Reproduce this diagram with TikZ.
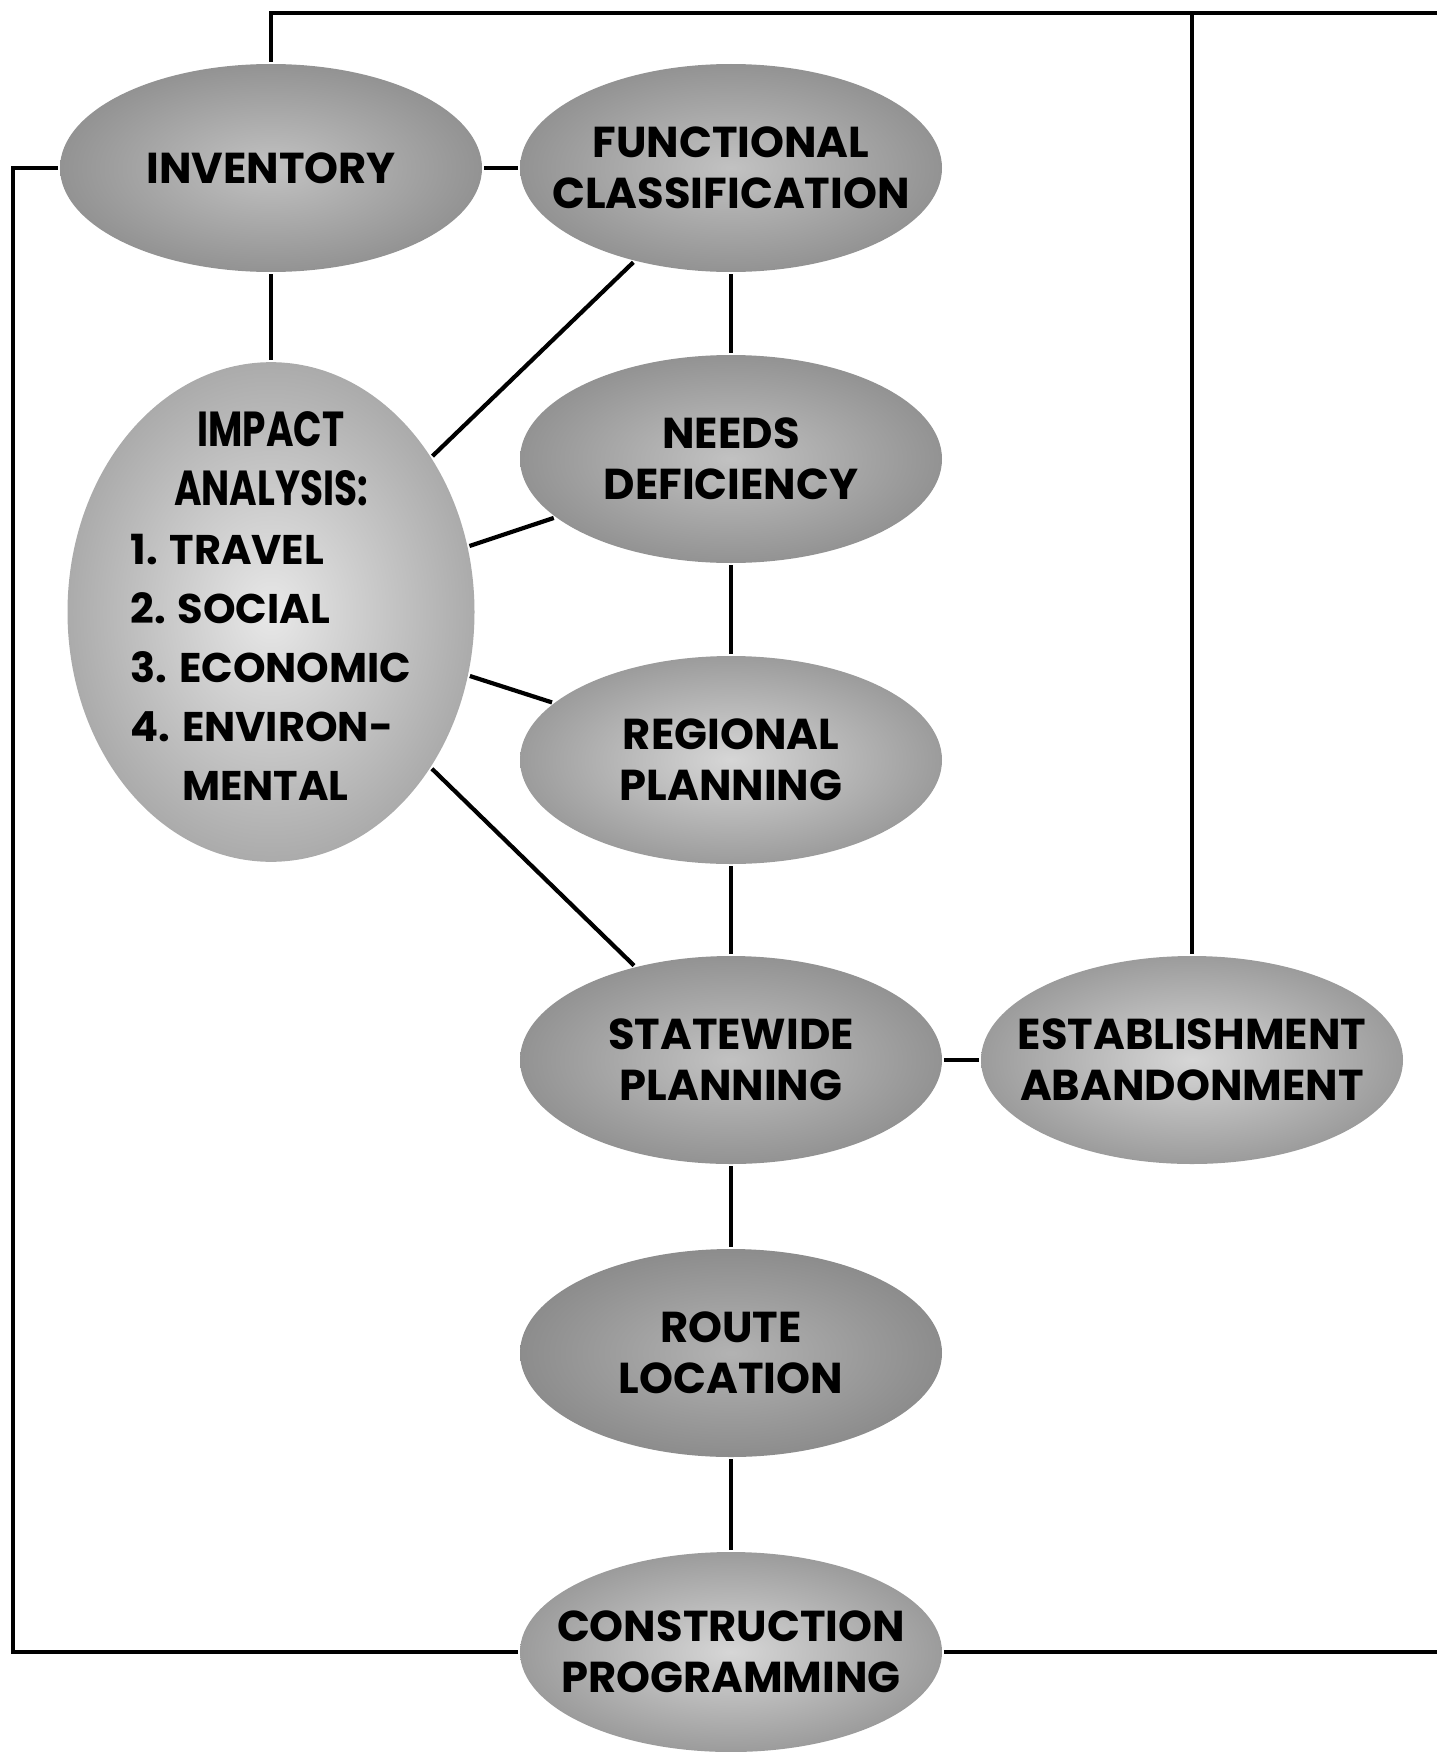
\documentclass[tikz,border=0pt]{standalone}
\usepackage{fontspec}
\setmainfont{Poppins}
\newfontfamily\condfont{Poppins}[FakeStretch=0.76]
\usetikzlibrary{shapes.geometric}

\begin{document}
\begin{tikzpicture}[line width=1.2pt]
\tikzstyle{blob}=[ellipse, shading=radial, minimum width=4.22cm, minimum height=2.08cm, inner xsep=-0.5cm, inner ysep=-0.3cm, align=center, font=\fontsize{12.3}{14.4}\selectfont\bfseries]
\tikzstyle{darkfill}=[inner color=gray!60, outer color=gray!90]
\tikzstyle{midfill}=[inner color=gray!48, outer color=gray!85]
\tikzstyle{lightfill}=[inner color=gray!32, outer color=gray!78]
\useasboundingbox (0,0) rectangle (14.37,-17.52);

\node[blob, midfill] (inv) at (2.71,-1.68) {INVENTORY};
\node[blob, midfill] (func) at (7.31,-1.68) {FUNCTIONAL\\CLASSIFICATION};
\node[blob, inner color=gray!18, outer color=gray!66, minimum width=4.07cm, minimum height=4.70cm] (impact) at (2.71,-6.12)
  {\fontsize{11.8}{14}\selectfont\renewcommand{\arraystretch}{1.2}%
   \begin{tabular}{@{}l@{}}
   \multicolumn{1}{@{}c@{}}{\condfont\fontsize{14}{16}\selectfont IMPACT}\\
   \multicolumn{1}{@{}c@{}}{\condfont\fontsize{14}{16}\selectfont ANALYSIS:}\\
   1. TRAVEL\\
   2. SOCIAL\\
   3. ECONOMIC\\
   4. ENVIRON-\\
   \phantom{4. }MENTAL
   \end{tabular}};
\node[blob, midfill] (needs) at (7.31,-4.59) {NEEDS\\DEFICIENCY};
\node[blob, lightfill] (reg) at (7.31,-7.60) {REGIONAL\\PLANNING};
\node[blob, midfill] (state) at (7.31,-10.60) {STATEWIDE\\PLANNING};
\node[blob, lightfill] (estab) at (11.92,-10.60) {ESTABLISHMENT\\ABANDONMENT};
\node[blob, darkfill] (route) at (7.31,-13.53) {ROUTE\\LOCATION};
\node[blob, lightfill, minimum height=2.0cm] (constr) at (7.31,-16.52) {CONSTRUCTION\\PROGRAMMING};

% links between the stages
\draw (inv) -- (func);
\draw (inv) -- (impact);
\draw (func) -- (needs);
\draw (needs) -- (reg);
\draw (reg) -- (state);
\draw (state) -- (route);
\draw (route) -- (constr);
\draw (state) -- (estab);
\draw (impact) -- (func);
\draw (impact) -- (needs);
\draw (impact) -- (reg);
\draw (impact) -- (state);

% outer feedback loop
\coordinate (topend) at (14.37,-0.13);
\coordinate (leftbot) at (0.13,-16.52);
\coordinate (botend) at (14.37,-16.52);
\draw (inv.north) |- (topend);
\draw (estab.north) -- (estab.north |- topend);
\draw (inv.west) -| (leftbot) -- (constr.west);
\draw (constr.east) -- (botend);
\end{tikzpicture}
\end{document}
